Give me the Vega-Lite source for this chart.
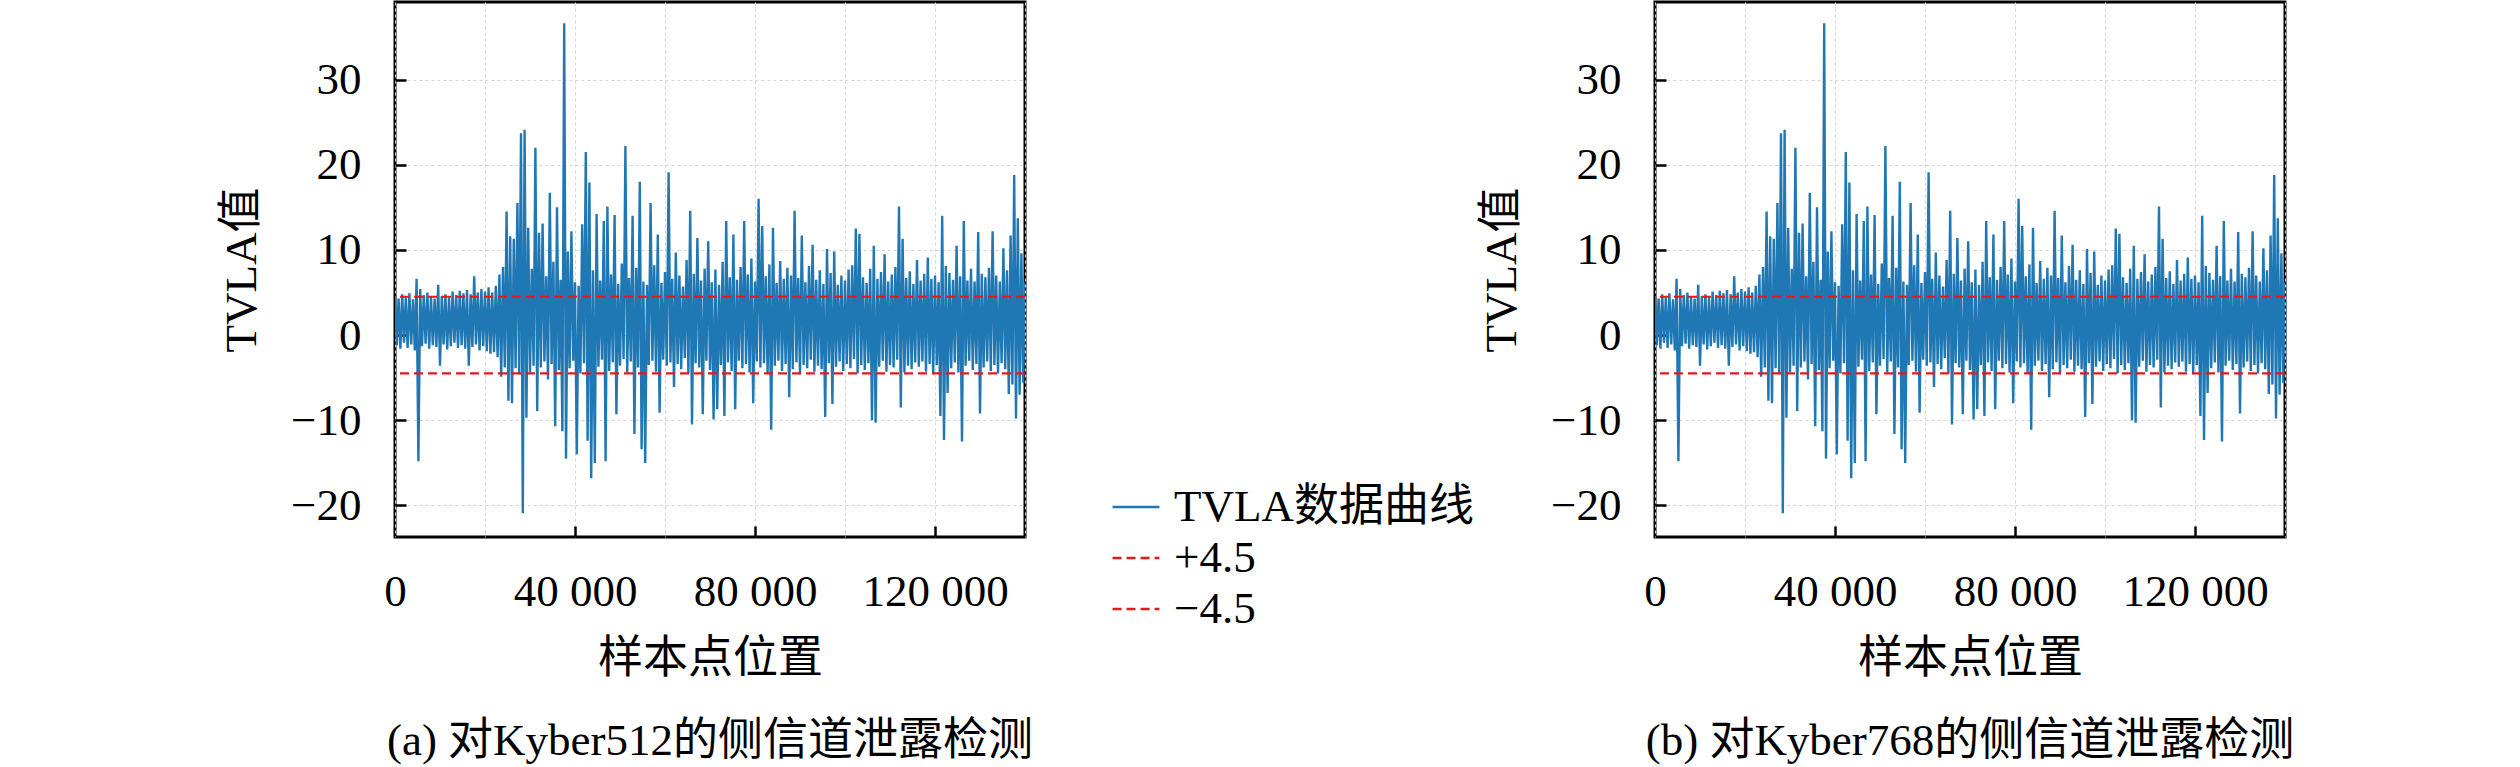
{
  "$schema": "https://vega.github.io/schema/vega-lite/v6.json",
  "padding": {"left": 218, "top": 0, "right": 0, "bottom": 0},
  "background": "white",
  "datasets": {
    "tvla": [
      {"x": 0, "y": 4.6}, {"x": 400, "y": -1.2}, {"x": 800, "y": 4.3}, {"x": 1200, "y": -1.6}, {"x": 1600, "y": 4.8},
      {"x": 2000, "y": -0.9}, {"x": 2400, "y": 4.4}, {"x": 2800, "y": -1.5}, {"x": 3200, "y": 4.9}, {"x": 3600, "y": -1.1},
      {"x": 4000, "y": 4.2}, {"x": 4400, "y": -1.8}, {"x": 4800, "y": 6.6}, {"x": 5200, "y": -14.8}, {"x": 5600, "y": 5.4},
      {"x": 6000, "y": -1.3}, {"x": 6400, "y": 4.7}, {"x": 6800, "y": -1.0}, {"x": 7200, "y": 5.0}, {"x": 7600, "y": -1.6},
      {"x": 8000, "y": 4.5}, {"x": 8400, "y": -1.2}, {"x": 8800, "y": 4.3}, {"x": 9200, "y": -1.4}, {"x": 9600, "y": 5.9},
      {"x": 10000, "y": -3.6}, {"x": 10400, "y": 4.6}, {"x": 10800, "y": -1.1}, {"x": 11200, "y": 4.8}, {"x": 11600, "y": -1.7},
      {"x": 12000, "y": 4.4}, {"x": 12400, "y": -1.3}, {"x": 12800, "y": 5.1}, {"x": 13200, "y": -0.9}, {"x": 13600, "y": 4.7},
      {"x": 14000, "y": -1.5}, {"x": 14400, "y": 5.2}, {"x": 14800, "y": -1.2}, {"x": 15200, "y": 4.9}, {"x": 15600, "y": -1.6},
      {"x": 16000, "y": 5.3}, {"x": 16400, "y": -3.6}, {"x": 16800, "y": 4.8}, {"x": 17200, "y": -1.4}, {"x": 17600, "y": 6.9},
      {"x": 18000, "y": -1.1}, {"x": 18400, "y": 5.0}, {"x": 18800, "y": -1.8}, {"x": 19200, "y": 5.4}, {"x": 19600, "y": -1.3},
      {"x": 20000, "y": 5.1}, {"x": 20400, "y": -1.9}, {"x": 20800, "y": 5.6}, {"x": 21200, "y": -2.2}, {"x": 21600, "y": 5.0},
      {"x": 22000, "y": -2.0}, {"x": 22400, "y": 5.8}, {"x": 22800, "y": -2.6}, {"x": 23200, "y": 7.1}, {"x": 23600, "y": -4.9},
      {"x": 24000, "y": 8.0}, {"x": 24400, "y": -3.8}, {"x": 24800, "y": 14.5}, {"x": 25200, "y": -7.7}, {"x": 25600, "y": 11.6},
      {"x": 26000, "y": -8.0}, {"x": 26400, "y": 11.3}, {"x": 26800, "y": -3.9}, {"x": 27200, "y": 15.5}, {"x": 27600, "y": -4.6},
      {"x": 28000, "y": 23.7}, {"x": 28400, "y": -20.9}, {"x": 28800, "y": 24.1}, {"x": 29200, "y": -9.7}, {"x": 29600, "y": 12.6},
      {"x": 30000, "y": -4.4}, {"x": 30400, "y": 7.8}, {"x": 30800, "y": -3.6}, {"x": 31200, "y": 22.0}, {"x": 31600, "y": -8.9},
      {"x": 32000, "y": 12.0}, {"x": 32400, "y": -3.8}, {"x": 32800, "y": 13.1}, {"x": 33200, "y": -3.1}, {"x": 33600, "y": 6.9},
      {"x": 34000, "y": -5.2}, {"x": 34400, "y": 16.7}, {"x": 34800, "y": -3.4}, {"x": 35200, "y": 8.6}, {"x": 35600, "y": -10.7},
      {"x": 36000, "y": 15.0}, {"x": 36400, "y": -4.1}, {"x": 36800, "y": 6.5}, {"x": 37200, "y": -11.3}, {"x": 37600, "y": 36.6},
      {"x": 38000, "y": -14.5}, {"x": 38400, "y": 9.8}, {"x": 38800, "y": -3.9}, {"x": 39200, "y": 12.2}, {"x": 39600, "y": -3.0},
      {"x": 40000, "y": 6.2}, {"x": 40400, "y": -14.0}, {"x": 40800, "y": 5.8}, {"x": 41200, "y": -4.5}, {"x": 41600, "y": 13.0},
      {"x": 42000, "y": -3.3}, {"x": 42400, "y": 21.5}, {"x": 42800, "y": -12.4}, {"x": 43200, "y": 17.9}, {"x": 43600, "y": -16.8},
      {"x": 44000, "y": 7.6}, {"x": 44400, "y": -15.0}, {"x": 44800, "y": 14.2}, {"x": 45200, "y": -3.7}, {"x": 45600, "y": 6.4},
      {"x": 46000, "y": -2.9}, {"x": 46400, "y": 13.4}, {"x": 46800, "y": -14.8}, {"x": 47200, "y": 15.1}, {"x": 47600, "y": -4.2},
      {"x": 48000, "y": 7.1}, {"x": 48400, "y": -3.2}, {"x": 48800, "y": 14.1}, {"x": 49200, "y": -9.3}, {"x": 49600, "y": 6.0},
      {"x": 50000, "y": -3.6}, {"x": 50400, "y": 8.4}, {"x": 50800, "y": -2.8}, {"x": 51200, "y": 22.2}, {"x": 51600, "y": -4.4},
      {"x": 52000, "y": 6.7}, {"x": 52400, "y": -3.1}, {"x": 52800, "y": 14.0}, {"x": 53200, "y": -11.6}, {"x": 53600, "y": 7.9},
      {"x": 54000, "y": -3.8}, {"x": 54400, "y": 18.0}, {"x": 54800, "y": -13.4}, {"x": 55200, "y": 6.3}, {"x": 55600, "y": -15.0},
      {"x": 56000, "y": 5.9}, {"x": 56400, "y": -3.5}, {"x": 56800, "y": 15.5}, {"x": 57200, "y": -3.0}, {"x": 57600, "y": 8.2},
      {"x": 58000, "y": -4.3}, {"x": 58400, "y": 11.8}, {"x": 58800, "y": -9.1}, {"x": 59200, "y": 6.1}, {"x": 59600, "y": -2.9},
      {"x": 60000, "y": 7.4}, {"x": 60400, "y": -3.6}, {"x": 60800, "y": 19.1}, {"x": 61200, "y": -3.2}, {"x": 61600, "y": 6.6},
      {"x": 62000, "y": -6.1}, {"x": 62400, "y": 9.7}, {"x": 62800, "y": -3.4}, {"x": 63200, "y": 7.0}, {"x": 63600, "y": -4.0},
      {"x": 64000, "y": 5.7}, {"x": 64400, "y": -2.7}, {"x": 64800, "y": 8.8}, {"x": 65200, "y": -4.5}, {"x": 65600, "y": 14.6},
      {"x": 66000, "y": -10.5}, {"x": 66400, "y": 7.2}, {"x": 66800, "y": -3.3}, {"x": 67200, "y": 11.4}, {"x": 67600, "y": -3.8},
      {"x": 68000, "y": 6.4}, {"x": 68400, "y": -9.3}, {"x": 68800, "y": 7.8}, {"x": 69200, "y": -3.0}, {"x": 69600, "y": 11.0},
      {"x": 70000, "y": -4.1}, {"x": 70400, "y": 6.2}, {"x": 70800, "y": -9.9}, {"x": 71200, "y": 7.7}, {"x": 71600, "y": -8.7},
      {"x": 72000, "y": 5.9}, {"x": 72400, "y": -3.5}, {"x": 72800, "y": 8.6}, {"x": 73200, "y": -9.5}, {"x": 73600, "y": 13.4},
      {"x": 74000, "y": -3.2}, {"x": 74400, "y": 6.8}, {"x": 74800, "y": -4.2}, {"x": 75200, "y": 11.8}, {"x": 75600, "y": -8.7},
      {"x": 76000, "y": 6.5}, {"x": 76400, "y": -3.0}, {"x": 76800, "y": 8.0}, {"x": 77200, "y": -3.9}, {"x": 77600, "y": 13.4},
      {"x": 78000, "y": -3.4}, {"x": 78400, "y": 7.1}, {"x": 78800, "y": -4.4}, {"x": 79200, "y": 9.0}, {"x": 79600, "y": -8.0},
      {"x": 80000, "y": 6.3}, {"x": 80400, "y": -3.1}, {"x": 80800, "y": 16.0}, {"x": 81200, "y": -3.8}, {"x": 81600, "y": 12.8},
      {"x": 82000, "y": -3.3}, {"x": 82400, "y": 6.9}, {"x": 82800, "y": -4.5}, {"x": 83200, "y": 8.3}, {"x": 83600, "y": -11.1},
      {"x": 84000, "y": 12.6}, {"x": 84400, "y": -3.6}, {"x": 84800, "y": 6.1}, {"x": 85200, "y": -3.0}, {"x": 85600, "y": 8.7},
      {"x": 86000, "y": -4.2}, {"x": 86400, "y": 6.6}, {"x": 86800, "y": -3.4}, {"x": 87200, "y": 7.9}, {"x": 87600, "y": -7.3},
      {"x": 88000, "y": 7.0}, {"x": 88400, "y": -4.0}, {"x": 88800, "y": 14.6}, {"x": 89200, "y": -3.2}, {"x": 89600, "y": 6.7},
      {"x": 90000, "y": -4.6}, {"x": 90400, "y": 11.7}, {"x": 90800, "y": -3.5}, {"x": 91200, "y": 6.2}, {"x": 91600, "y": -3.9},
      {"x": 92000, "y": 8.1}, {"x": 92400, "y": -2.9}, {"x": 92800, "y": 10.6}, {"x": 93200, "y": -4.3}, {"x": 93600, "y": 6.5},
      {"x": 94000, "y": -3.6}, {"x": 94400, "y": 7.6}, {"x": 94800, "y": -4.0}, {"x": 95200, "y": 6.0}, {"x": 95600, "y": -9.6},
      {"x": 96000, "y": 10.1}, {"x": 96400, "y": -3.3}, {"x": 96800, "y": 7.3}, {"x": 97200, "y": -8.1}, {"x": 97600, "y": 9.8},
      {"x": 98000, "y": -3.7}, {"x": 98400, "y": 5.9}, {"x": 98800, "y": -3.1}, {"x": 99200, "y": 7.0}, {"x": 99600, "y": -4.2},
      {"x": 100000, "y": 6.4}, {"x": 100400, "y": -3.4}, {"x": 100800, "y": 7.7}, {"x": 101200, "y": -3.9}, {"x": 101600, "y": 8.2},
      {"x": 102000, "y": -2.8}, {"x": 102400, "y": 12.5}, {"x": 102800, "y": -4.5}, {"x": 103200, "y": 11.9}, {"x": 103600, "y": -3.5},
      {"x": 104000, "y": 6.8}, {"x": 104400, "y": -4.1}, {"x": 104800, "y": 6.1}, {"x": 105200, "y": -3.3}, {"x": 105600, "y": 7.8},
      {"x": 106000, "y": -10.0}, {"x": 106400, "y": 10.5}, {"x": 106800, "y": -10.3}, {"x": 107200, "y": 6.6}, {"x": 107600, "y": -3.7},
      {"x": 108000, "y": 7.4}, {"x": 108400, "y": -3.0}, {"x": 108800, "y": 9.5}, {"x": 109200, "y": -4.3}, {"x": 109600, "y": 6.3},
      {"x": 110000, "y": -3.5}, {"x": 110400, "y": 7.1}, {"x": 110800, "y": -3.8}, {"x": 111200, "y": 8.0}, {"x": 111600, "y": -2.9},
      {"x": 112000, "y": 15.1}, {"x": 112400, "y": -8.5}, {"x": 112800, "y": 11.3}, {"x": 113200, "y": -4.4}, {"x": 113600, "y": 6.7},
      {"x": 114000, "y": -3.6}, {"x": 114400, "y": 7.5}, {"x": 114800, "y": -4.0}, {"x": 115200, "y": 6.0}, {"x": 115600, "y": -3.2},
      {"x": 116000, "y": 8.8}, {"x": 116400, "y": -3.7}, {"x": 116800, "y": 6.4}, {"x": 117200, "y": -3.1}, {"x": 117600, "y": 7.2},
      {"x": 118000, "y": -4.3}, {"x": 118400, "y": 9.1}, {"x": 118800, "y": -3.4}, {"x": 119200, "y": 6.6}, {"x": 119600, "y": -4.6},
      {"x": 120000, "y": 7.0}, {"x": 120400, "y": -3.5}, {"x": 120800, "y": 6.2}, {"x": 121200, "y": -9.5}, {"x": 121600, "y": 14.0},
      {"x": 122000, "y": -12.3}, {"x": 122400, "y": 8.1}, {"x": 122800, "y": -6.8}, {"x": 123200, "y": 7.3}, {"x": 123600, "y": -3.9},
      {"x": 124000, "y": 6.5}, {"x": 124400, "y": -3.2}, {"x": 124800, "y": 10.5}, {"x": 125200, "y": -4.4}, {"x": 125600, "y": 6.9},
      {"x": 126000, "y": -12.5}, {"x": 126400, "y": 13.4}, {"x": 126800, "y": -3.6}, {"x": 127200, "y": 6.4}, {"x": 127600, "y": -3.0},
      {"x": 128000, "y": 7.8}, {"x": 128400, "y": -4.1}, {"x": 128800, "y": 6.3}, {"x": 129200, "y": -3.4}, {"x": 129600, "y": 12.1},
      {"x": 130000, "y": -9.2}, {"x": 130400, "y": 7.2}, {"x": 130800, "y": -3.8}, {"x": 131200, "y": 6.8}, {"x": 131600, "y": -3.1},
      {"x": 132000, "y": 7.9}, {"x": 132400, "y": -4.2}, {"x": 132800, "y": 12.2}, {"x": 133200, "y": -3.5}, {"x": 133600, "y": 7.0},
      {"x": 134000, "y": -4.5}, {"x": 134400, "y": 6.3}, {"x": 134800, "y": -3.3}, {"x": 135200, "y": 10.2}, {"x": 135600, "y": -4.0},
      {"x": 136000, "y": 7.6}, {"x": 136400, "y": -6.9}, {"x": 136800, "y": 11.7}, {"x": 137200, "y": -5.8}, {"x": 137600, "y": 18.8},
      {"x": 138000, "y": -9.8}, {"x": 138400, "y": 13.7}, {"x": 138800, "y": -7.0}, {"x": 139200, "y": 9.6}, {"x": 139600, "y": -5.6},
      {"x": 140000, "y": 6.2}
    ],
    "thresholds": [
      {"series": "+4.5", "y": 4.5},
      {"series": "−4.5", "y": -4.5}
    ]
  },
  "hconcat": [
    {
      "width": 630,
      "height": 535,
      "title": {"text": "(a) 对Kyber512的侧信道泄露检测", "orient": "bottom", "anchor": "middle", "frame": "group", "offset": 38},
      "encoding": {
        "x": {
          "field": "x", "type": "quantitative",
          "scale": {"domain": [0, 140000], "nice": false, "zero": false},
          "axis": {
            "title": "样本点位置",
            "values": [0, 20000, 40000, 60000, 80000, 100000, 120000, 140000],
            "labelExpr": "datum.value % 40000 === 0 ? replace(format(datum.value, ','), ',', ' ') : ''",
            "tickOpacity": {"condition": {"test": "datum.value % 40000 === 0 && datum.value > 0", "value": 1}, "value": 0}
          }
        },
        "y": {
          "field": "y", "type": "quantitative",
          "scale": {"domain": [-23.7, 39.1], "nice": false, "zero": false},
          "axis": {"title": "TVLA值", "values": [-20, -10, 0, 10, 20, 30]}
        }
      },
      "layer": [
        {
          "data": {"name": "tvla"},
          "mark": {"type": "line", "strokeWidth": 2.4, "clip": true},
          "encoding": {
            "color": {"datum": "TVLA数据曲线", "type": "nominal", "scale": {"domain": ["TVLA数据曲线", "+4.5", "−4.5"], "range": ["#1f77b4", "#e31a1c", "#e31a1c"]}},
            "strokeDash": {"datum": "TVLA数据曲线", "type": "nominal", "scale": {"domain": ["TVLA数据曲线", "+4.5", "−4.5"], "range": [[1, 0], [9, 5], [9, 5]]}}
          }
        },
        {
          "data": {"name": "thresholds"},
          "mark": {"type": "rule", "strokeWidth": 2.2},
          "encoding": {
            "x": null,
            "color": {"field": "series", "type": "nominal", "scale": {"domain": ["TVLA数据曲线", "+4.5", "−4.5"], "range": ["#1f77b4", "#e31a1c", "#e31a1c"]}},
            "strokeDash": {"field": "series", "type": "nominal", "scale": {"domain": ["TVLA数据曲线", "+4.5", "−4.5"], "range": [[1, 0], [9, 5], [9, 5]]}}
          }
        }
      ]
    },
    {
      "width": 630,
      "height": 535,
      "title": {"text": "(b) 对Kyber768的侧信道泄露检测", "orient": "bottom", "anchor": "middle", "frame": "group", "offset": 38},
      "encoding": {
        "x": {
          "field": "x", "type": "quantitative",
          "scale": {"domain": [0, 140000], "nice": false, "zero": false},
          "axis": {
            "title": "样本点位置",
            "values": [0, 20000, 40000, 60000, 80000, 100000, 120000, 140000],
            "labelExpr": "datum.value % 40000 === 0 ? replace(format(datum.value, ','), ',', ' ') : ''",
            "tickOpacity": {"condition": {"test": "datum.value % 40000 === 0 && datum.value > 0", "value": 1}, "value": 0}
          }
        },
        "y": {
          "field": "y", "type": "quantitative",
          "scale": {"domain": [-23.7, 39.1], "nice": false, "zero": false},
          "axis": {"title": "TVLA值", "values": [-20, -10, 0, 10, 20, 30]}
        }
      },
      "layer": [
        {
          "data": {"name": "tvla"},
          "mark": {"type": "line", "strokeWidth": 2.4, "clip": true},
          "encoding": {
            "color": {"datum": "TVLA数据曲线", "type": "nominal", "scale": {"domain": ["TVLA数据曲线", "+4.5", "−4.5"], "range": ["#1f77b4", "#e31a1c", "#e31a1c"]}},
            "strokeDash": {"datum": "TVLA数据曲线", "type": "nominal", "scale": {"domain": ["TVLA数据曲线", "+4.5", "−4.5"], "range": [[1, 0], [9, 5], [9, 5]]}}
          }
        },
        {
          "data": {"name": "thresholds"},
          "mark": {"type": "rule", "strokeWidth": 2.2},
          "encoding": {
            "x": null,
            "color": {"field": "series", "type": "nominal", "scale": {"domain": ["TVLA数据曲线", "+4.5", "−4.5"], "range": ["#1f77b4", "#e31a1c", "#e31a1c"]}},
            "strokeDash": {"field": "series", "type": "nominal", "scale": {"domain": ["TVLA数据曲线", "+4.5", "−4.5"], "range": [[1, 0], [9, 5], [9, 5]]}}
          }
        }
      ]
    }
  ],
  "spacing": 630,
  "bounds": "flush",
  "config": {
    "font": "Liberation Serif, Noto Sans CJK SC",
    "view": {"stroke": "black", "strokeWidth": 3},
    "title": {"fontSize": 45, "fontWeight": "normal", "color": "black", "font": "Liberation Serif, Noto Sans CJK SC"},
    "axis": {
      "domain": false,
      "tickColor": "black",
      "tickWidth": 2.5,
      "tickSize": -11,
      "labelFontSize": 45,
      "titleFontSize": 45,
      "titleFontWeight": "normal",
      "labelColor": "black",
      "titleColor": "black",
      "gridColor": "#d4d4d4",
      "gridDash": [3, 3],
      "gridWidth": 1,
      "labelOverlap": false,
      "labelFlush": false
    },
    "axisX": {"labelPadding": 43, "titlePadding": 22},
    "axisY": {"labelPadding": 45, "titlePadding": 26},
    "legend": {
      "orient": "none",
      "legendX": 716,
      "legendY": 480,
      "title": null,
      "padding": 0,
      "labelFontSize": 45,
      "labelColor": "black",
      "labelLimit": 0,
      "symbolType": "stroke",
      "symbolSize": 2200,
      "symbolStrokeWidth": 2.5,
      "rowPadding": 3,
      "labelOffset": 13
    }
  }
}
